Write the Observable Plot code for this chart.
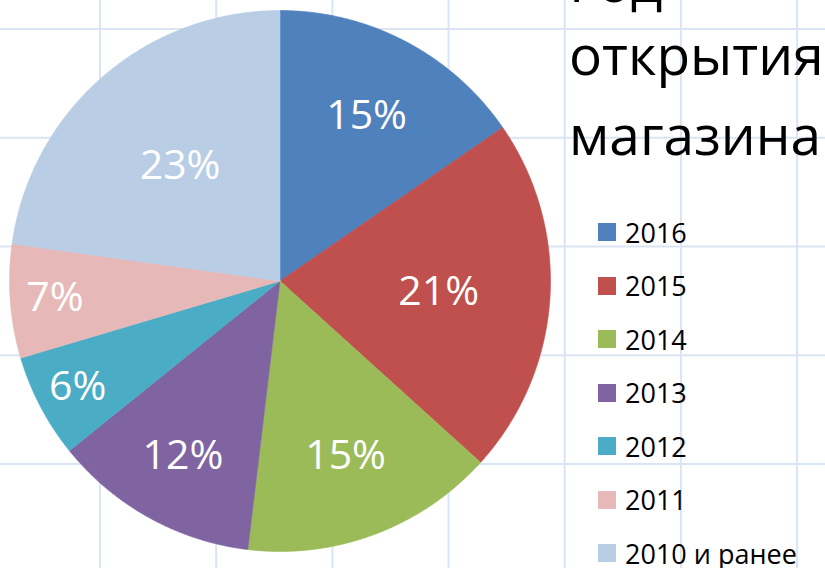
<!DOCTYPE html>
<html>
<head>
<meta charset="utf-8">
<script src="https://cdn.jsdelivr.net/npm/d3@7"></script>
<script src="https://cdn.jsdelivr.net/npm/@observablehq/plot@0.6"></script>
<style>
  html, body { margin: 0; padding: 0; background: #ffffff; }
  #wrap {
    position: relative; width: 825px; height: 568px; overflow: hidden;
    background-color: #ffffff;
    background-image:
      linear-gradient(to right, #dae4f2 0, #dae4f2 2px, transparent 2px),
      linear-gradient(to bottom, #dae4f2 0, #dae4f2 2px, transparent 2px);
    background-size: 116.2px 100%, 100% 108.75px;
    background-position: 99px 0, 0 28px;
    font-family: "Open Sans", sans-serif;
  }
  #chart { position: absolute; left: 0; top: 0; }
  .title-line { position: absolute; left: 569px; font-size: 55px; line-height: 55px; color: #000; white-space: nowrap; }
  .leg { position: absolute; left: 598px; height: 40px; display: flex; align-items: center; font-size: 27px; color: #000; white-space: nowrap; }
  .leg .sw { width: 18px; height: 18px; margin-right: 9px; flex: none; }
</style>
</head>
<body>
<div id="wrap"><div id="chart"></div></div>
<script>
const categories = ["2016", "2015", "2014", "2013", "2012", "2011", "2010 и ранее"];
const shares = [15.4, 21.3, 15.2, 12.3, 6.2, 6.8, 22.8];
const colors = ["#4f81bd", "#c0504d", "#9bbb59", "#8064a2", "#4bacc6", "#e6b9b8", "#b9cde5"];
const titleLines = ["Год", "открытия", "магазина"];

const rows = categories.map((c, i) => ({key: c, share: shares[i]}));
const arcs = d3.pie().sort(null).value(d => d.share)(rows);

// polygon points for each slice (unit circle, angle 0 at top, clockwise)
const slicePts = [];
arcs.forEach(a => {
  slicePts.push({key: a.data.key, x: 0, y: 0});
  const n = Math.max(2, Math.ceil((a.endAngle - a.startAngle) / 0.005));
  for (let k = 0; k <= n; k++) {
    const t = a.startAngle + (a.endAngle - a.startAngle) * k / n;
    slicePts.push({key: a.data.key, x: Math.sin(t), y: Math.cos(t)});
  }
  slicePts.push({key: a.data.key, x: 0, y: 0});
});

const labels = arcs.map(a => {
  const mid = (a.startAngle + a.endAngle) / 2;
  const f = 0.95 - 0.017 * a.data.share;
  return {x: f * Math.sin(mid), y: f * Math.cos(mid), text: Math.round(a.data.share) + "%"};
});

const chart = Plot.plot({
  width: 825,
  height: 568,
  margin: 0,
  style: {background: "transparent", overflow: "visible"},
  x: {domain: [-1, 1], range: [9, 550], axis: null},
  y: {domain: [-1, 1], range: [551, 10], axis: null},
  color: {domain: categories, range: colors, legend: false},
  marks: [
    Plot.line(slicePts, {x: "x", y: "y", z: "key", fill: "key", stroke: "key", strokeWidth: 0.6}),
    Plot.text(labels, {x: "x", y: "y", text: "text", fill: "white", fontSize: 41, fontFamily: "Open Sans"})
  ]
});
document.getElementById("chart").appendChild(chart);

const wrap = document.getElementById("wrap");
const baselines = [2, 75, 155];
titleLines.forEach((t, i) => {
  const d = document.createElement("div");
  d.className = "title-line";
  d.textContent = t;
  d.style.top = (baselines[i] - 0.888 * 55) + "px";
  wrap.appendChild(d);
});
categories.forEach((c, i) => {
  const d = document.createElement("div");
  d.className = "leg";
  d.style.top = (232 + i * 53.5 - 20) + "px";
  const sw = document.createElement("div");
  sw.className = "sw";
  sw.style.background = colors[i];
  const tx = document.createElement("span");
  tx.textContent = c;
  d.appendChild(sw);
  d.appendChild(tx);
  wrap.appendChild(d);
});
</script>
</body>
</html>
